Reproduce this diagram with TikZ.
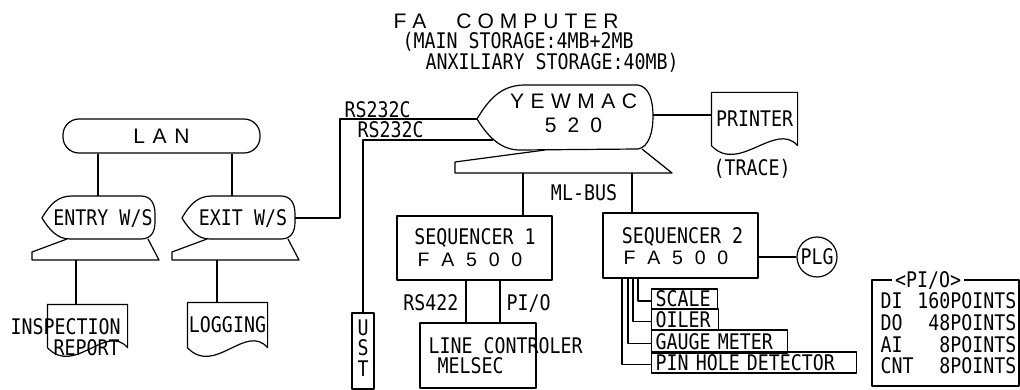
\documentclass[tikz,border=0pt]{standalone}
\usepackage{fontspec}
\setmainfont{DejaVu Sans Mono}[FakeStretch=0.85]
\newfontfamily\widefont{Liberation Sans}
\usepackage{tikz}
\usetikzlibrary{positioning,calc}

% letters set apart by a fixed gap
\makeatletter
\newcommand\spreadtext[2]{\def\spread@g{#1}\spread@a#2\@nil}
\def\spread@a#1#2\@nil{#1\ifx\relax#2\relax\else\hspace{\spread@g}\spread@a#2\@nil\fi}
\makeatother

\tikzset{
  lbl/.style={inner sep=0pt, font=\fontsize{21.5}{20.5}\selectfont, text height=15.7pt, text depth=0pt},
  spaced/.style={inner sep=0pt, font=\widefont\fontsize{21}{24}\selectfont, text height=15pt, text depth=0pt},
  spacedsmall/.style={spaced, font=\widefont\fontsize{19.5}{24}\selectfont, text height=14pt},
  unitbox/.style={draw, inner sep=0pt},
  sensor/.style={draw, lbl, anchor=west, inner xsep=4pt, inner ysep=0pt, text width=#1, align=left},
}

\begin{document}
\begin{tikzpicture}[x=1pt, y=-1pt, line width=1.2pt, line join=round]
\useasboundingbox (0,0) rectangle (1020,390);
% title of the fa computer
\node[spaced, anchor=west] (title) at (393,21) {\spreadtext{6pt}{FA}\hspace{30pt}\spreadtext{6pt}{COMPUTER}};
\node[lbl, anchor=west] (mainmem) at (402,41) {(MAIN STORAGE:4MB+2MB};
\node[lbl, anchor=west] (auxmem) at (425,62) {ANXILIARY STORAGE:40MB)};

% lan
\node[unitbox, rounded corners=16pt, minimum width=197pt, minimum height=34pt, spaced] (lan) at (161.5,136) {\spreadtext{7.6pt}{LAN}};

% entry work station
\begin{scope}[shift={(42,218)}]
\draw (0,0) .. controls (8,-14) and (16,-22) .. (30,-22) -- (99,-22)
  .. controls (109,-22) and (113,-14) .. (113,-4) -- (113,4)
  .. controls (113,14) and (109,21) .. (99,21) -- (28,21)
  .. controls (16,21) and (8,13) .. (0,0) -- cycle;
\draw (25,21) -- (-10,34) -- (-10,42) -- (117,42) -- (106,21);
\coordinate (entry-top) at (56,-22);
\coordinate (entry-foot) at (34,42);
\node[lbl] (entry) at (61,0) {ENTRY W/S};
\end{scope}

% exit work station
\begin{scope}[shift={(182,218)}]
\draw (0,0) .. controls (8,-14) and (16,-22) .. (30,-22) -- (99,-22)
  .. controls (109,-22) and (113,-14) .. (113,-4) -- (113,4)
  .. controls (113,14) and (109,21) .. (99,21) -- (28,21)
  .. controls (16,21) and (8,13) .. (0,0) -- cycle;
\draw (25,21) -- (-10,34) -- (-10,42) -- (117,42) -- (106,21);
\coordinate (exit-top) at (50,-22);
\coordinate (exit-foot) at (35,42);
\coordinate (exit-right) at (113,0);
\node[lbl] (exit) at (61,0) {EXIT W/S};
\end{scope}

\draw (lan.south -| entry-top) -- (entry-top);
\draw (lan.south -| exit-top) -- (exit-top);

% documents
\node[minimum width=79pt, minimum height=42pt, inner sep=0pt] (inspect) at (87.5,326) {};
\node[lbl, anchor=west] (inspect-t1) at (10,327) {INSPECTION};
\node[lbl, anchor=west] (inspect-t2) at (53,348) {REPORT};
\node[lbl, minimum width=79pt, minimum height=44pt] (logging) at (227.5,325) {LOGGING};
\node[lbl, minimum width=85pt, minimum height=52pt] (printer) at (754.5,119) {PRINTER};
\foreach \d in {inspect, logging, printer}
  \draw (\d.north west) -- (\d.north east) -- (\d.south east)
    .. controls ($(\d.south east)+(-22,-25)$) and ($(\d.south west)+(27,29)$) .. (\d.south west) -- cycle;
\draw (entry-foot) -- (entry-foot |- inspect.north);
\draw (exit-foot) -- (exit-foot |- logging.north);
\node[lbl, anchor=west] (trace) at (713,168) {(TRACE)};

% fa computer
\draw (477,119) .. controls (490,97) and (503,85) .. (525,85) -- (638,85)
  .. controls (649,87) and (653,100) .. (653,116)
  .. controls (653,132) and (649,147) .. (638,149) -- (520,150)
  .. controls (503,150) and (490,140) .. (477,119) -- cycle;
\draw (545,150) -- (455,162) -- (455,173) -- (672,173) -- (642,149);
\coordinate (yew-left) at (477,119);
\coordinate (yew-low) at (493,140);
\coordinate (yew-right) at (653,115);
\coordinate (bus1) at (523,173);
\coordinate (bus2) at (632,173);
\node[spaced] (yewmac) at (573.5,101) {\spreadtext{6.5pt}{YEWMAC}};
\node[spaced] (yew-num) at (573.5,125) {\spreadtext{11pt}{520}};
\draw (yew-right) -- (yew-right -| printer.west);

% ust
\node[unitbox, minimum width=22pt, minimum height=76pt] (ust) at (363,351) {};
\foreach \l/\y in {U/328, S/348, T/369}
  \node[lbl] (ust-\l) at (363,\y) {\l};

% rs232c lines
\draw (exit-right) -- ++(45,0) |- (yew-left);
\draw (yew-low) -| (ust.north);
\node[lbl, anchor=west] (rs-up) at (344,110) {RS232C};
\node[lbl, anchor=west] (rs-low) at (357,130) {RS232C};

% sequencers
\node[unitbox, minimum width=155pt, minimum height=64pt] (seq1) at (474.5,248) {};
\node[lbl] (seq1-name) at (475,236.5) {SEQUENCER 1};
\node[spacedsmall] (seq1-type) at (470,259) {\spreadtext{11.8pt}{FA500}};
\node[unitbox, minimum width=155pt, minimum height=65pt] (seq2) at (680.5,245.5) {};
\node[lbl] (seq2-name) at (682.5,235.5) {SEQUENCER 2};
\node[spacedsmall] (seq2-type) at (676,258) {\spreadtext{11.8pt}{FA500}};
\draw (bus1) -- (bus1 |- seq1.north);
\draw (bus2) -- (bus2 |- seq2.north);
\node[lbl] (mlbus) at (584,193) {ML-BUS};

% line controller
\node[unitbox, minimum width=116pt, minimum height=65pt] (linectl) at (478,355.5) {};
\node[lbl, anchor=west] (linectl-name) at (428,346) {LINE CONTROLER};
\node[lbl, anchor=west] (linectl-type) at (437,366) {MELSEC};
\draw ([xshift=-8.5pt]seq1.south) -- ([xshift=-12pt]linectl.north);
\draw ([xshift=25.5pt]seq1.south) -- ([xshift=22pt]linectl.north);
\node[lbl, anchor=east] (rs422) at (459,303) {RS422};
\node[lbl, anchor=west] (pio-line) at (506,303) {PI/O};

% plg
\node[draw, circle, minimum size=40pt, lbl] (plg) at (817,257) {PLG};
\draw (seq2.east |- plg) -- (plg);

% sensors
\node[sensor=58pt, minimum height=20pt] (scale) at (651,299) {SCALE};
\node[sensor=59pt, minimum height=21pt] (oiler) at (651,319.5) {OILER};
\node[sensor=128pt, minimum height=23pt] (gauge) at (651,341.5) {GAUGE METER};
\node[sensor=197pt, minimum height=21pt] (pinhole) at (651,362.5) {PIN HOLE DETECTOR};
\foreach \dx/\n in {-42.5/scale, -47.5/oiler, -52.5/gauge, -58.5/pinhole}
  \draw ([xshift=\dx pt]seq2.south) |- ([yshift=-2pt]\n.west);

% pi/o table
\node[unitbox, minimum width=147pt, minimum height=106pt] (pio) at (945.5,333) {};
\node[lbl, fill=white, inner xsep=3pt] (pio-title) at (928,280) {<PI/O>};
\foreach \a/\b/\y in {DI/160POINTS/301, DO/48POINTS/323, AI/8POINTS/345, CNT/8POINTS/366} {
  \node[lbl, anchor=west] (pio-\a) at (880,\y) {\a};
  \node[lbl, anchor=east] (pio-\a-n) at (1017,\y) {\b};
}
\end{tikzpicture}
\end{document}
